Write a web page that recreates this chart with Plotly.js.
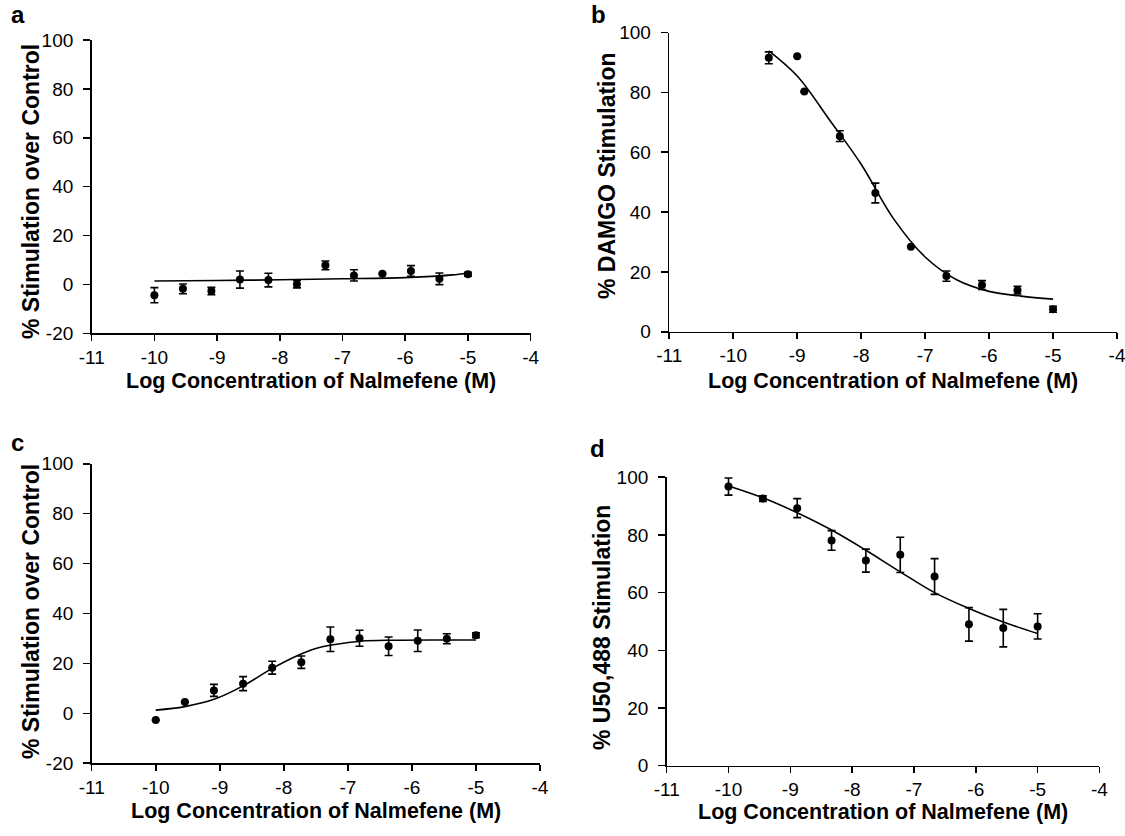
<!DOCTYPE html>
<html>
<head>
<meta charset="utf-8">
<script src="https://cdn.plot.ly/plotly-3.0.1.min.js"></script>
<style>html,body{margin:0;padding:0;background:#fff;}#chart{width:1125px;height:836px;}</style>
</head>
<body>
<div id="chart"></div>
<script>
// ---- Data ----
// Panel a: % stimulation over control
const aX = [-10, -9.545, -9.091, -8.636, -8.182, -7.727, -7.273, -6.818, -6.364, -5.909, -5.455, -5];
const aY = [-4.4, -1.8, -2.7, 2.0, 1.8, 0.1, 7.8, 3.7, 4.4, 5.5, 2.3, 4.2];
const aErr = [3.1, 2.0, 1.5, 3.5, 2.8, 1.5, 1.8, 2.3, 0, 2.2, 2.4, 0.8];
const aFitX = [-10, -9, -8, -7, -6, -5.5, -5.25, -5];
const aFitY = [1.4, 1.6, 1.9, 2.3, 2.8, 3.4, 3.9, 4.7];

// Panel b: % DAMGO stimulation
const bX = [-9.444, -9.0, -8.889, -8.333, -7.778, -7.222, -6.667, -6.111, -5.556, -5];
const bY = [91.6, 92.1, 80.3, 65.4, 46.4, 28.4, 18.6, 15.6, 13.9, 7.5];
const bErr = [2.0, 0, 0, 1.8, 3.3, 0, 1.7, 1.5, 1.3, 1.0];
const bFitX = [-9.444, -9.0, -8.5, -8.0, -7.5, -7.0, -6.5, -6.0, -5.5, -5.0];
const bFitY = [93.9, 85.5, 71.0, 56.0, 38.0, 25.0, 17.3, 13.5, 11.9, 10.9];

// Panel c: % stimulation over control
const cX = [-10, -9.545, -9.091, -8.636, -8.182, -7.727, -7.273, -6.818, -6.364, -5.909, -5.455, -5];
const cY = [-2.7, 4.5, 9.2, 11.9, 18.3, 20.5, 29.7, 30.1, 26.9, 29.1, 29.9, 31.3];
const cErr = [0, 0, 2.4, 2.8, 2.6, 2.5, 4.9, 3.2, 3.7, 4.3, 2.0, 1.0];
const cFitX = [-10, -9.545, -9.091, -8.636, -8.182, -7.8, -7.5, -7.2, -6.8, -6.3, -5.5, -5];
const cFitY = [1.3, 2.7, 5.6, 11.0, 18.0, 23.0, 26.0, 27.6, 28.9, 29.3, 29.4, 29.4];

// Panel d: % U50,488 stimulation
const dX = [-10, -9.444, -8.889, -8.333, -7.778, -7.222, -6.667, -6.111, -5.556, -5];
const dY = [96.8, 92.6, 89.3, 78.1, 71.1, 73.1, 65.6, 49.0, 47.7, 48.3];
const dErr = [3.0, 1.0, 3.3, 3.4, 4.0, 6.1, 6.2, 5.8, 6.5, 4.4];
const dFitX = [-10, -9.444, -8.889, -8.333, -7.778, -7.222, -6.667, -6.111, -5.556, -5];
const dFitY = [97.0, 92.9, 87.7, 81.7, 74.7, 67.2, 60.0, 54.5, 49.8, 45.8];

// Tick values / labels
const xTickVals = [-11, -10, -9, -8, -7, -6, -5, -4];
const xTickText = ['-11', '-10', '-9', '-8', '-7', '-6', '-5', '-4'];
const yTickValsAC = [-20, 0, 20, 40, 60, 80, 100];
const yTickTextAC = ['-20', '0', '20', '40', '60', '80', '100'];
const yTickValsBD = [0, 20, 40, 60, 80, 100];
const yTickTextBD = ['0', '20', '40', '60', '80', '100'];

const xTitle = 'Log Concentration of Nalmefene (M)';
const yTitles = ['% Stimulation over Control', '% DAMGO Stimulation',
                 '% Stimulation over Control', '% U50,488 Stimulation'];
const panelLetters = ['a', 'b', 'c', 'd'];

// ---- Build ----
const FONT = 'Liberation Sans, Arial, Helvetica, sans-serif';
const sets = [
  [aX, aY, aErr, aFitX, aFitY],
  [bX, bY, bErr, bFitX, bFitY],
  [cX, cY, cErr, cFitX, cFitY],
  [dX, dY, dErr, dFitX, dFitY]
];
const traces = [];
sets.forEach((s, i) => {
  const xa = i === 0 ? 'x' : 'x' + (i + 1);
  const ya = i === 0 ? 'y' : 'y' + (i + 1);
  traces.push({
    x: s[3], y: s[4], xaxis: xa, yaxis: ya, type: 'scatter', mode: 'lines',
    line: {color: '#000', width: 1.6, shape: 'spline', smoothing: 1},
    hoverinfo: 'skip', showlegend: false, cliponaxis: false
  });
  traces.push({
    x: s[0], y: s[1], xaxis: xa, yaxis: ya, type: 'scatter', mode: 'markers',
    marker: {color: '#000', size: 8},
    error_y: {type: 'data', array: s[2], visible: true, color: '#000', thickness: 1.6, width: 4},
    showlegend: false, cliponaxis: false
  });
});

function xAxis(domain, anchor) {
  return {
    domain: domain, anchor: anchor, range: [-11, -4],
    tickmode: 'array', tickvals: xTickVals, ticktext: xTickText,
    showline: true, linecolor: '#000', linewidth: 1.6, mirror: false,
    ticks: 'outside', ticklen: 6, tickwidth: 1.6, tickcolor: '#000',
    ticklabeloverflow: 'allow',
    showgrid: false, zeroline: false,
    tickfont: {family: FONT, size: 19, color: '#000'},
    title: {text: ''}
  };
}
function yAxis(domain, anchor, range, vals, text) {
  return {
    domain: domain, anchor: anchor, range: range,
    tickmode: 'array', tickvals: vals, ticktext: text,
    showline: true, linecolor: '#000', linewidth: 1.6, mirror: false,
    ticks: 'outside', ticklen: 7, tickwidth: 1.6, tickcolor: '#000',
    ticklabelstandoff: 6, ticklabeloverflow: 'allow',
    showgrid: false, zeroline: false,
    tickfont: {family: FONT, size: 19, color: '#000'},
    title: {text: ''}
  };
}

const txt = (t, x, y, size, angle) => ({
  text: '<b>' + t + '</b>', x: x / 1125, y: 1 - y / 836, xref: 'paper', yref: 'paper',
  showarrow: false, xanchor: 'center', yanchor: 'middle', textangle: angle || 0,
  font: {family: FONT, size: size, color: '#000'}
});

const layout = {
  width: 1125, height: 836,
  margin: {l: 0, r: 0, t: 0, b: 0},
  paper_bgcolor: '#fff', plot_bgcolor: '#fff',
  showlegend: false,
  xaxis:  xAxis([0.0815, 0.4717], 'y'),
  yaxis:  yAxis([0.6013, 0.9522], 'x', [-20, 100], yTickValsAC, yTickTextAC),
  xaxis2: xAxis([0.5949, 0.9929], 'y2'),
  yaxis2: yAxis([0.6032, 0.9609], 'x2', [0, 100], yTickValsBD, yTickTextBD),
  xaxis3: xAxis([0.0815, 0.4800], 'y3'),
  yaxis3: yAxis([0.0870, 0.4453], 'x3', [-20, 100], yTickValsAC, yTickTextAC),
  xaxis4: xAxis([0.5926, 0.9773], 'y4'),
  yaxis4: yAxis([0.0841, 0.4291], 'x4', [0, 100], yTickValsBD, yTickTextBD),
  annotations: [
    txt(panelLetters[0], 18, 15, 24),
    txt(panelLetters[1], 598, 14, 24),
    txt(panelLetters[2], 17, 443, 24),
    txt(panelLetters[3], 597, 448, 24),
    txt(xTitle, 311, 381, 21.5),
    txt(xTitle, 893, 381, 21.5),
    txt(xTitle, 316, 811, 21.5),
    txt(xTitle, 883, 812, 21.5),
    txt(yTitles[0], 31, 192, 23, -90),
    txt(yTitles[1], 607, 176, 23, -90),
    txt(yTitles[2], 31, 612, 23, -90),
    txt(yTitles[3], 602, 628, 23, -90)
  ]
};

Plotly.newPlot('chart', traces, layout, {displayModeBar: false, staticPlot: true});
</script>
</body>
</html>
